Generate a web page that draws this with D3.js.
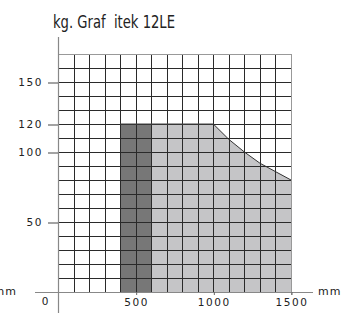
<!DOCTYPE html>
<html><head><meta charset="utf-8">
<script src="https://cdn.jsdelivr.net/npm/d3@7"></script>
<style>body{margin:0;background:#fff}svg{display:block}</style>
</head><body>
<script>
const title = "kg. Graf  itek 12LE";
const yTicks = [50, 100, 120, 150];
const xTicks = [500, 1000, 1500];
const darkBand = [[400, 120], [600, 120]];
const lightArea = [[600, 120], [1000, 120], [1100, 109], [1200, 100], [1300, 92], [1400, 86], [1500, 80]];
const xMax = 1500, yMax = 170;

const W = 347, H = 313;
const svg = d3.select("body").append("svg").attr("width", W).attr("height", H);
const x = d3.scaleLinear().domain([0, xMax]).range([58, 291]);
const y = d3.scaleLinear().domain([0, yMax]).range([292, 54]);

// fills
svg.append("path")
  .attr("d", d3.area().x(d => x(d[0])).y0(y(0)).y1(d => y(d[1]))(darkBand))
  .attr("fill", "#777777");
svg.append("path")
  .attr("d", d3.area().x(d => x(d[0])).y0(y(0)).y1(d => y(d[1]))(lightArea))
  .attr("fill", "#c5c5c7");

// grid
const g = svg.append("g").attr("stroke", "#2a2a2a").attr("stroke-width", 1).attr("shape-rendering", "crispEdges");
d3.range(100, xMax, 100).forEach(v => {
  g.append("line").attr("x1", Math.round(x(v)) + 0.5).attr("x2", Math.round(x(v)) + 0.5)
    .attr("y1", y(yMax)).attr("y2", y(0));
});
d3.range(10, yMax, 10).forEach(v => {
  g.append("line").attr("y1", Math.round(y(v)) + 0.5).attr("y2", Math.round(y(v)) + 0.5)
    .attr("x1", x(0)).attr("x2", x(xMax));
});
// outer border top/right
const b = svg.append("g").attr("stroke", "#999").attr("stroke-width", 1).attr("shape-rendering", "crispEdges");
b.append("line").attr("x1", x(0)).attr("x2", x(xMax)).attr("y1", Math.round(y(yMax)) + 0.5).attr("y2", Math.round(y(yMax)) + 0.5);
b.append("line").attr("x1", Math.round(x(xMax)) + 0.5).attr("x2", Math.round(x(xMax)) + 0.5).attr("y1", y(yMax)).attr("y2", y(0) + 3);

// curve outline
svg.append("path")
  .attr("d", d3.line().x(d => x(d[0])).y(d => y(d[1]))(lightArea.slice(1)))
  .attr("fill", "none").attr("stroke", "#333").attr("stroke-width", 1);
svg.append("line").attr("x1", x(400)).attr("x2", x(1000)).attr("y1", y(120)).attr("y2", y(120))
  .attr("stroke", "#444").attr("stroke-width", 1.2);

// axes lines
const a = svg.append("g").attr("stroke", "#888").attr("stroke-width", 1.2);
a.append("line").attr("x1", x(0) + 0.5).attr("x2", x(0) + 0.5).attr("y1", 37).attr("y2", H);
a.append("line").attr("x1", 35).attr("x2", 313).attr("y1", y(0) + 0.5).attr("y2", y(0) + 0.5);

const fontTick = "'DejaVu Sans', sans-serif";
// y axis
const ya = svg.append("g").attr("transform", `translate(${x(0)},0.5)`)
  .call(d3.axisLeft(y).tickValues(yTicks).tickSize(10).tickPadding(5).tickFormat(d3.format("d")));
ya.select(".domain").remove();
ya.selectAll(".tick line").attr("stroke", "#666").attr("stroke-width", 1.2);
ya.selectAll(".tick text").attr("font-family", fontTick).attr("font-size", 10.5)
  .attr("letter-spacing", 1.6).attr("fill", "#222");

// x axis
const xa = svg.append("g").attr("transform", `translate(0.5,${y(0)})`)
  .call(d3.axisBottom(x).tickValues(xTicks).tickSize(3).tickPadding(4).tickFormat(d3.format("d")));
xa.select(".domain").remove();
xa.selectAll(".tick line").attr("stroke", "#666");
xa.selectAll(".tick text").attr("font-family", fontTick).attr("font-size", 10.5)
  .attr("letter-spacing", 1.6).attr("fill", "#222");

svg.append("text").attr("x", 45).attr("y", 305).attr("text-anchor", "middle")
  .attr("font-family", fontTick).attr("font-size", 10.5).attr("fill", "#222").text("0");

svg.append("text").attr("x", 318).attr("y", 295).attr("font-family", fontTick).attr("font-size", 11)
  .attr("letter-spacing", 1).attr("fill", "#222").text("mm");
svg.append("text").attr("x", 17).attr("y", 295).attr("text-anchor", "end").attr("font-family", fontTick).attr("font-size", 11)
  .attr("letter-spacing", 1).attr("fill", "#222").text("mm");

svg.append("text").attr("x", 53).attr("y", 28)
  .style("white-space", "pre")
  .attr("font-family", "'Liberation Sans Narrow', 'DejaVu Sans Condensed', sans-serif")
  .attr("font-size", 18).attr("fill", "#222")
  .attr("textLength", 122).attr("lengthAdjust", "spacingAndGlyphs")
  .text(title);
</script>
</body></html>
